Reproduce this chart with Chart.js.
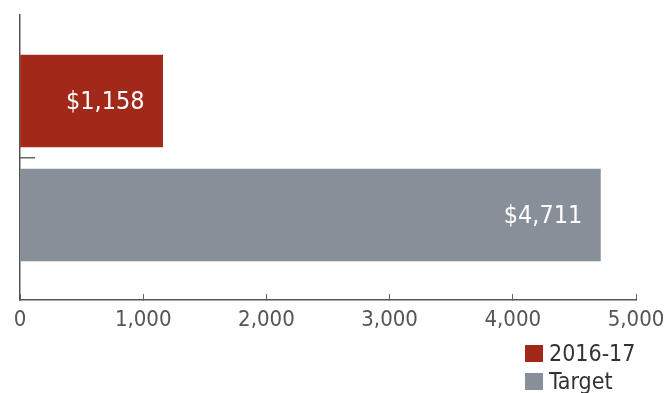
<!DOCTYPE html>
<html>
<head>
<meta charset="utf-8">
<script src="https://cdn.jsdelivr.net/npm/chart.js@4.4.1/dist/chart.umd.min.js"></script>
<style>
  body { margin: 0; background: #fff; }
  #wrap { position: relative; width: 667px; height: 393px; }
  #legend { position: absolute; left: 525px; top: 339px; font-family: 'Liberation Sans Narrow', 'DejaVu Sans Condensed', sans-serif; font-size: 23px; color: #333; }
  #legend div { display: flex; align-items: center; height: 28px; }
  #legend span.box { display: inline-block; width: 18px; height: 17px; margin-right: 6px; }
</style>
</head>
<body>
<div id="wrap">
  <canvas id="myChart" width="667" height="393"></canvas>
  <div id="legend"></div>
</div>
<script>
var periods = ['2016-17', 'Target'];
var amounts = [1158, 4711];
var barColors = ['#a2291a', '#879099'];
var xMin = 0, xMax = 5000, xStep = 1000;

var FONT = "'Liberation Sans Narrow', 'DejaVu Sans Condensed', sans-serif";

// white dollar amount inside the right end of each bar
var barValues = {
    id: 'barValues',
    afterDatasetsDraw: function(chart){
        var ctx = chart.ctx;
        var meta = chart.getDatasetMeta(0);
        ctx.save();
        ctx.fillStyle = '#fff';
        ctx.font = '25px ' + FONT;
        ctx.textAlign = 'right';
        ctx.textBaseline = 'middle';
        meta.data.forEach(function(bar, i){
            ctx.fillText('$' + amounts[i].toLocaleString('en-US'), bar.x - 18, bar.y + 1);
        });
        ctx.restore();
    }
};

// first bar sits highest: slot 2 for 2016-17, slot 1 for Target
var points = amounts.map(function(v, i){ return {x: v, y: amounts.length - i}; });

var chart = new Chart(document.getElementById('myChart').getContext('2d'), {
    type: 'bar',
    data: {
        labels: periods,
        datasets: [{
            data: points,
            backgroundColor: barColors,
            barThickness: 92
        }]
    },
    options: {
        indexAxis: 'y',
        responsive: false,
        animation: false,
        layout: { padding: { top: 15, right: 31, left: 0, bottom: 0 } },
        plugins: { legend: { display: false }, tooltip: { enabled: false } },
        scales: {
            x: {
                min: xMin, max: xMax,
                afterFit: function(s){ s.height = 93; s.paddingLeft = 0; s.paddingRight = 0; },
                ticks: {
                    stepSize: xStep,
                    padding: 13,
                    color: '#555',
                    font: { family: FONT, size: 22 },
                    callback: function(v){ return v.toLocaleString('en-US'); }
                },
                grid: { drawOnChartArea: false, tickLength: -6, color: '#666', lineWidth: 1 },
                border: { color: '#555', width: 1.5 }
            },
            y: {
                type: 'linear',
                offset: false,
                bounds: 'data',
                min: 0.2544, max: 2.7544,
                afterFit: function(s){ s.width = 20; },
                // one divider tick between the two bars
                afterBuildTicks: function(s){ s.ticks = [{value: 1.5}]; },
                ticks: { display: false },
                grid: {
                    offset: false,
                    drawOnChartArea: false,
                    tickLength: -15,
                    lineWidth: 1.5,
                    color: '#666'
                },
                border: { color: '#555', width: 1.5 }
            }
        }
    },
    plugins: [barValues]
});

var legend = document.getElementById('legend');
periods.forEach(function(name, i){
    var row = document.createElement('div');
    row.innerHTML = '<span class="box" style="background:' + barColors[i] + '"></span>' + name;
    legend.appendChild(row);
});
</script>
</body>
</html>
